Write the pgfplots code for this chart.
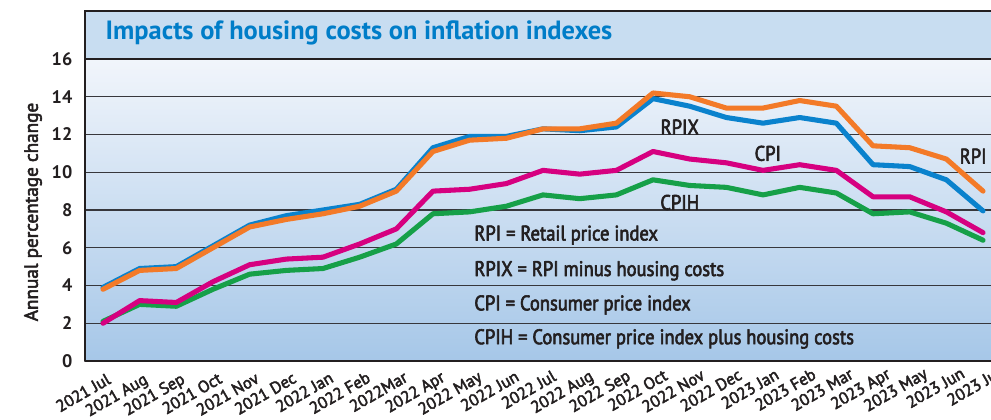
\documentclass[border=0pt]{standalone}
\usepackage{fontspec}
\setmainfont{PT Sans}
\newfontfamily\medfont{PT Sans}[FakeBold=2.8]
\newfontfamily\medcond{PT Sans}[FakeBold=2.8,FakeStretch=0.88]
\usepackage{pgfplots}
\pgfplotsset{compat=1.18}
\definecolor{rpi}{RGB}{243,122,40}
\definecolor{rpix}{RGB}{10,130,205}
\definecolor{cpi}{RGB}{214,0,128}
\definecolor{cpih}{RGB}{22,160,72}
\definecolor{ttl}{RGB}{0,125,200}
\definecolor{band}{RGB}{200,221,241}
\definecolor{bgtop}{RGB}{241,245,251}
\definecolor{bgbot}{RGB}{166,199,232}
\definecolor{ink}{RGB}{35,31,32}
\definecolor{gridc}{RGB}{55,55,60}
\begin{document}
\begin{tikzpicture}[x=0.75pt,y=0.75pt]
\useasboundingbox (0,0) rectangle (991,419);
\fill[band] (85,360) rectangle (1000,408);
\draw[ink,line width=1.6pt] (1000,408) -- (85,408) -- (85,360);
\node[anchor=west,text=ttl,font=\bfseries\fontsize{19.8}{21}\selectfont] at (101,386) {Impacts of housing costs on inflation indexes};
\node[rotate=90,text=ink,font=\medfont\fontsize{14.4}{15}\selectfont] at (33,207) {Annual percentage change};
\begin{axis}[
  at={(63.75pt,43.5pt)}, anchor=south west,
  scale only axis, width=680.4pt, height=226.5pt,
  xmin=-0.49, xmax=24.25, ymin=0, ymax=16,
  axis background/.style={top color=bgtop, bottom color=bgbot},
  axis line style={ink,line width=1.6pt},
  ymajorgrids, xmajorgrids=false, grid style={gridc,line width=0.95pt},
  ytick={0,2,...,16}, major tick length=0pt, tick style={draw=none},
  xtick={0,...,24},
  xticklabels={2021 Jul,2021 Aug,2021 Sep,2021 Oct,2021 Nov,2021 Dec,2022 Jan,2022 Feb,2022Mar,2022 Apr,2022 May,2022 Jun,2022 Jul,2022 Aug,2022 Sep,2022 Oct,2022 Nov,2022 Dec,2023 Jan,2023 Feb,2023 Mar,2023 Apr,2023 May,2023 Jun,2023 Jul},
  /pgf/number format/assume math mode=true,
  yticklabel style={text=ink,font=\bfseries\fontsize{13.6}{14}\selectfont,xshift=-6pt},
  xticklabel style={text=ink,font=\medfont\fontsize{12.5}{13}\selectfont,rotate=30,anchor=north east,xshift={1.0pt+\ticknum*0.4pt},yshift=-5pt},
  line join=round, line cap=round,
  clip=true,
]
\addplot[rpix,line width=3.8pt] coordinates {(0,3.9)(1,4.9)(2,5.0)(3,6.1)(4,7.2)(5,7.7)(6,8.0)(7,8.3)(8,9.1)(9,11.3)(10,11.9)(11,11.9)(12,12.3)(13,12.2)(14,12.4)(15,13.9)(16,13.5)(17,12.9)(18,12.6)(19,12.9)(20,12.6)(21,10.4)(22,10.3)(23,9.6)(24,7.95)};
\addplot[rpi,line width=3.8pt] coordinates {(0,3.8)(1,4.8)(2,4.9)(3,6.0)(4,7.1)(5,7.5)(6,7.8)(7,8.2)(8,9.0)(9,11.1)(10,11.7)(11,11.8)(12,12.3)(13,12.3)(14,12.6)(15,14.2)(16,14.0)(17,13.4)(18,13.4)(19,13.8)(20,13.5)(21,11.4)(22,11.3)(23,10.7)(24,9.0)};
\addplot[cpih,line width=3.8pt] coordinates {(0,2.1)(1,3.0)(2,2.9)(3,3.8)(4,4.6)(5,4.8)(6,4.9)(7,5.5)(8,6.2)(9,7.8)(10,7.9)(11,8.2)(12,8.8)(13,8.6)(14,8.8)(15,9.6)(16,9.3)(17,9.2)(18,8.8)(19,9.2)(20,8.9)(21,7.8)(22,7.9)(23,7.3)(24,6.4)};
\addplot[cpi,line width=3.8pt] coordinates {(0,2.0)(1,3.2)(2,3.1)(3,4.2)(4,5.1)(5,5.4)(6,5.5)(7,6.2)(8,7.0)(9,9.0)(10,9.1)(11,9.4)(12,10.1)(13,9.9)(14,10.1)(15,11.1)(16,10.7)(17,10.5)(18,10.1)(19,10.4)(20,10.1)(21,8.7)(22,8.7)(23,7.9)(24,6.8)};
\begin{scope}[every node/.style={text=ink,font=\medcond\fontsize{15.8}{17}\selectfont}]
\node at (axis cs:15.73,12.4) {RPIX};
\node at (axis cs:18.13,11.0) {CPI};
\node at (axis cs:15.73,8.4) {CPIH};
\node at (axis cs:23.73,10.86) {RPI};
\node[anchor=west] at (axis cs:10.0,6.67) {RPI = Retail price index};
\node[anchor=west] at (axis cs:10.0,4.78) {RPIX = RPI minus housing costs};
\node[anchor=west] at (axis cs:10.0,2.97) {CPI = Consumer price index};
\node[anchor=west] at (axis cs:10.0,1.17) {CPIH = Consumer price index plus housing costs};
\end{scope}
\end{axis}
\end{tikzpicture}
\end{document}
